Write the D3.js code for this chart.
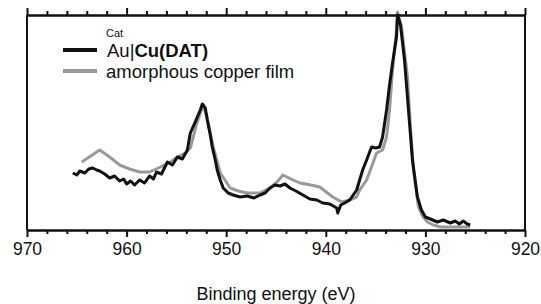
<!DOCTYPE html>
<html>
<head>
<meta charset="utf-8">
<script src="https://cdn.jsdelivr.net/npm/d3@7"></script>
<style>
  body { margin: 0; background: #fff; }
  text { font-family: "Liberation Sans", Arial, sans-serif; }
</style>
</head>
<body>
<div id="chart"></div>
<script>
// binding energy (eV) and intensity (arb. units)
let energyCatAu = [965.4, 965.0, 964.7, 964.2, 963.8, 963.4, 963.0, 962.7, 962.2, 961.7, 961.2, 960.7, 960.3, 960.0,
  959.6, 959.2, 958.7, 958.2, 957.7, 957.3, 957.0, 956.5, 955.9, 955.4, 954.9, 954.4, 953.9, 953.6, 953.2, 952.9,
  952.6, 952.4, 952.1, 951.9, 951.6, 951.4, 951.1, 950.9, 950.6, 950.3, 949.8, 949.3, 948.6, 947.9, 947.2, 946.6,
  946.1, 945.6, 945.1, 944.6, 944.1, 943.6, 943.0, 942.3, 941.6, 940.9, 940.3, 939.6, 938.9, 938.8, 938.5, 938.1,
  937.6, 936.9, 936.3, 935.9, 935.6, 935.4, 935.0, 934.6, 934.3, 933.9, 933.6, 933.3, 932.9, 932.8, 932.5, 932.1,
  931.7, 931.3, 930.8, 930.4, 930.0, 929.5, 928.8, 928.2, 927.5, 927.0, 926.6, 926.2, 925.8, 925.5];
let intensityCatAu = [57, 55, 59, 57, 61, 62, 60, 59, 56, 52, 54, 49, 51, 46,
  49, 45, 50, 47, 54, 51, 58, 56, 68, 65, 73, 71, 80, 97, 106, 113,
  120, 126, 122, 110, 95, 83, 70, 60, 50, 42, 37, 35, 33, 34, 32, 35,
  37, 42, 45, 44, 46, 42, 39, 35, 31, 30, 27, 26, 22, 17, 25, 27,
  30, 40, 60, 70, 78, 83, 82, 83, 93, 120, 145, 167, 193, 215, 205, 170,
  120, 70, 33, 20, 13, 11, 8, 10, 7, 9, 6, 9, 6, 5];

let energyCuFilm = [964.5, 963.6, 962.7, 961.7, 960.7, 959.7, 958.7, 957.7, 956.6, 955.6, 954.9, 954.1, 953.6, 953.0,
  952.6, 952.3, 951.9, 951.3, 950.6, 949.6, 948.8, 947.9, 946.6, 945.6, 944.9, 944.3, 943.5, 942.6, 941.5, 940.6,
  939.3, 938.4, 937.6, 936.9, 936.6, 935.9, 935.6, 934.9, 934.3, 933.9, 933.6, 933.3, 932.9, 932.8, 932.4, 931.8,
  931.5, 931.2, 930.7, 930.3, 929.8, 929.2, 928.5, 927.0, 925.5];
let intensityCuFilm = [68, 74, 80, 73, 65, 61, 58, 58, 63, 68, 73, 77, 82, 105,
  117, 125, 112, 83, 57, 42, 39, 37, 37, 42, 48, 55, 51, 47, 45, 43,
  33, 28, 30, 33, 40, 50, 58, 77, 80, 93, 120, 160, 200, 218, 203, 153,
  103, 60, 23, 14, 8, 5, 3, 3, 3];

let majorTicks = [970, 960, 950, 940, 930, 920];
let minorTicks = d3.range(968, 920, -2).filter(function(d) { return d % 10 !== 0; });

let legendLabels = ['Au|Cu(DAT)', 'amorphous copper film'];

let margin = { top: 15, left: 27, right: 16, bottom: 74 },
  width = 541 - margin.left - margin.right,
  height = 304 - margin.top - margin.bottom;

let svg = d3.select('#chart')
  .append('svg')
  .attr('width', 541)
  .attr('height', 304)
  .style('background-color', '#FFFFFF');

let g = svg.append('g').attr('transform', 'translate(' + margin.left + ',' + margin.top + ')');

let x = d3.scaleLinear().domain([970, 920]).range([0, width]);
let y = d3.scaleLinear().domain([0, 215]).range([height, 0]);

// curves (gray first so black sits on top where they overlap)
let line = d3.line()
  .x(function(d) { return x(d[0]); })
  .y(function(d) { return y(d[1]); });

let film = energyCuFilm.map(function(e, i) { return [e, intensityCuFilm[i]]; });
let catAu = energyCatAu.map(function(e, i) { return [e, intensityCatAu[i]]; });

g.append('path')
  .datum(film)
  .attr('d', line)
  .attr('fill', 'none')
  .attr('stroke', '#999999')
  .attr('stroke-width', 3)
  .attr('stroke-linejoin', 'round');

g.append('path')
  .datum(catAu)
  .attr('d', line)
  .attr('fill', 'none')
  .attr('stroke', '#111111')
  .attr('stroke-width', 3)
  .attr('stroke-linejoin', 'round');

// bottom axis, major ticks with labels
let xBottom = g.append('g')
  .attr('transform', 'translate(0,' + height + ')')
  .call(d3.axisBottom(x).tickValues(majorTicks).tickSize(7).tickSizeOuter(0).tickPadding(6));
xBottom.selectAll('text').style('font-size', '17.5px').attr('fill', '#111');

g.append('g')
  .attr('transform', 'translate(0,' + height + ')')
  .call(d3.axisBottom(x).tickValues(minorTicks).tickSize(4).tickSizeOuter(0).tickFormat(''));

// top axis, no labels
g.append('g')
  .call(d3.axisTop(x).tickValues(majorTicks).tickSize(7).tickSizeOuter(0).tickFormat(''));
g.append('g')
  .call(d3.axisTop(x).tickValues(minorTicks).tickSize(4).tickSizeOuter(0).tickFormat(''));

g.selectAll('.domain, .tick line').attr('stroke', '#111').attr('stroke-width', 2);

// left and right frame
g.append('line').attr('x1', x(970)).attr('x2', x(970)).attr('y1', 0).attr('y2', height)
  .attr('stroke', '#111').attr('stroke-width', 2);
g.append('line').attr('x1', x(920)).attr('x2', x(920)).attr('y1', 0).attr('y2', height)
  .attr('stroke', '#111').attr('stroke-width', 2);

// x axis label
svg.append('text')
  .attr('x', 276)
  .attr('y', 300)
  .attr('text-anchor', 'middle')
  .style('font-size', '18px')
  .attr('fill', '#111')
  .text('Binding energy (eV)');

// legend
let legend = svg.append('g');
legend.append('line').attr('x1', 63).attr('x2', 97).attr('y1', 50).attr('y2', 50)
  .attr('stroke', '#111').attr('stroke-width', 4);
legend.append('line').attr('x1', 63).attr('x2', 97).attr('y1', 71).attr('y2', 71)
  .attr('stroke', '#999').attr('stroke-width', 4);

legend.append('text')
  .attr('x', 106)
  .attr('y', 37)
  .style('font-size', '11px')
  .attr('fill', '#111')
  .text('Cat');

let t1 = legend.append('text')
  .attr('x', 107)
  .attr('y', 57)
  .style('font-size', '18.5px')
  .attr('fill', '#111');
t1.append('tspan').text(legendLabels[0].split('|')[0] + '|');
t1.append('tspan').style('font-weight', 'bold').text(legendLabels[0].split('|')[1]);

legend.append('text')
  .attr('x', 106)
  .attr('y', 78)
  .style('font-size', '18.5px')
  .attr('fill', '#111')
  .text(legendLabels[1]);
</script>
</body>
</html>
